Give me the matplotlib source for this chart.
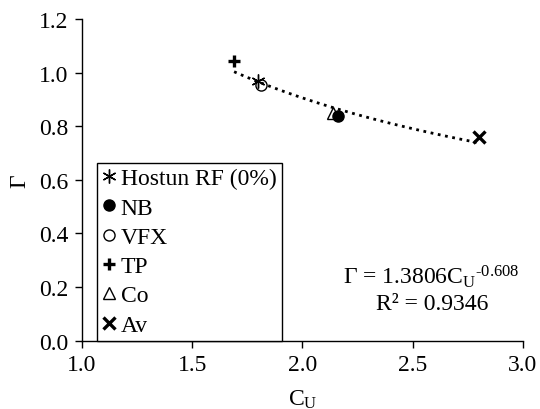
import matplotlib
matplotlib.use("Agg")
import matplotlib.pyplot as plt
import numpy as np

plt.rcParams["font.family"] = ["Liberation Serif", "DejaVu Serif"]
plt.rcParams["mathtext.fontset"] = "custom"
plt.rcParams["mathtext.rm"] = "Liberation Serif"
plt.rcParams["mathtext.it"] = "Liberation Serif:italic"

# data
labels = ["Hostun RF (0%)", "NB", "VFX", "TP", "Co", "Av"]
cu = [1.80, 2.16, 1.81, 1.69, 2.14, 2.80]
gamma = [0.97, 0.84, 0.955, 1.045, 0.85, 0.76]
markers = [(6, 2, 0), "o", "o", "P", "^", "X"]
filled = [True, True, False, True, False, True]

coef_a, coef_b = 1.3806, -0.608
fit_x = np.linspace(min(cu), max(cu), 100)
fit_y = coef_a * fit_x ** coef_b

FS = 17

fig = plt.figure(figsize=(5.4, 4.1), dpi=100)
ax = fig.add_axes([0.152, 0.167, 0.816, 0.784])

ax.plot(fit_x, fit_y, ":", color="black", lw=2, zorder=2)

for lab, x, y, m, f in zip(labels, cu, gamma, markers, filled):
    if m in ("P", "X"):
        ax.plot(x, y, marker="+" if m == "P" else "x", ms=8, mew=2.4,
                color="black", ls="none", label=lab, zorder=3)
    elif m == (6, 2, 0):
        ax.plot(x, y, marker=m, ms=10, mew=1.0, color="black", ls="none",
                label=lab, zorder=3)
    else:
        ax.plot(x, y, marker=m, ms=8 if m == "o" else 9, mew=1.0,
                mfc="black" if f else "none", mec="black", ls="none",
                label=lab, zorder=3)

ax.set_xlim(1.0, 3.0)
ax.set_ylim(0.0, 1.2)
ax.set_xticks([1.0, 1.5, 2.0, 2.5, 3.0])
ax.set_yticks([0.0, 0.2, 0.4, 0.6, 0.8, 1.0, 1.2])
ax.xaxis.set_major_formatter(matplotlib.ticker.FormatStrFormatter("%.1f"))
ax.yaxis.set_major_formatter(matplotlib.ticker.FormatStrFormatter("%.1f"))
ax.tick_params(labelsize=FS, length=5, width=1, direction="out", pad=5)
for s in ("top", "right"):
    ax.spines[s].set_visible(False)
for s in ("left", "bottom"):
    ax.spines[s].set_linewidth(1)

ax.set_xlabel(r"C$_\mathrm{U}$", fontsize=FS, labelpad=9)
ax.set_ylabel("Γ", fontsize=FS, labelpad=6)

leg = ax.legend(loc="lower left", bbox_to_anchor=(0.034, 0.0, 0.42, 0.55),
                mode="expand", fontsize=FS, frameon=True, fancybox=False,
                edgecolor="black", framealpha=1, handlelength=0.6,
                handletextpad=0.2, labelspacing=0.33, borderpad=0.2,
                borderaxespad=0)
leg.get_frame().set_linewidth(1)

ax.text(2.587, 0.241, "Γ = 1.3806C$_\\mathrm{U}$$^{\\mathrm{\u2010}0.608}$",
        fontsize=FS, ha="center", va="center")
ax.text(2.587, 0.137, "R² = 0.9346", fontsize=FS, ha="center", va="center")

fig.savefig("out.png", dpi=100)
